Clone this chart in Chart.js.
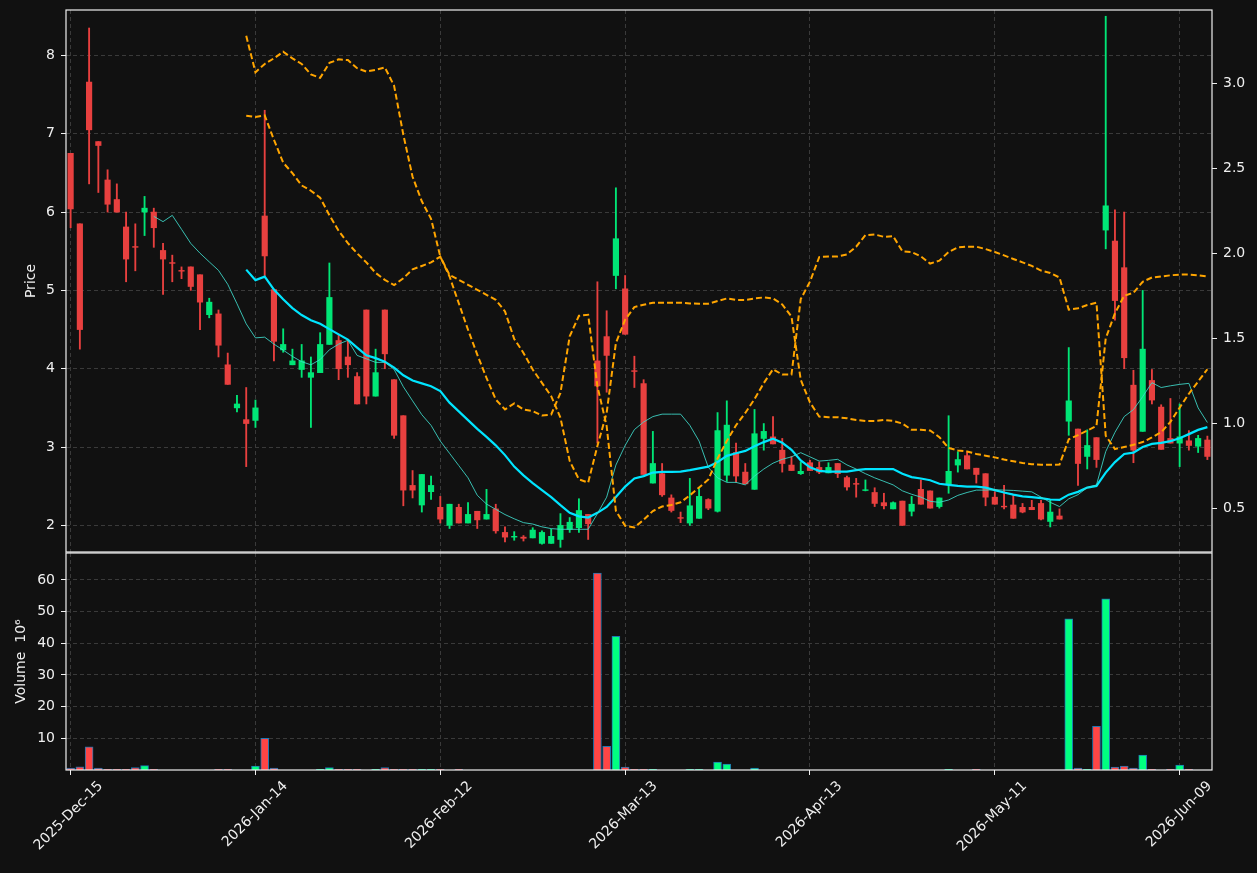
<!DOCTYPE html>
<html>
<head>
<meta charset="utf-8">
<script src="https://cdn.jsdelivr.net/npm/chart.js@4.4.1/dist/chart.umd.min.js"></script>
<style>
  html, body { margin: 0; padding: 0; background: #111111; }
  #wrap { position: relative; width: 1257px; height: 873px; }
  canvas { position: absolute; left: 0; }
  #price { top: 0; }
  #volume { top: 552px; }
</style>
</head>
<body>
<div id="wrap">
  <canvas id="price" width="1257" height="553"></canvas>
  <canvas id="volume" width="1257" height="321"></canvas>
</div>
<script>
// x axis tick labels (every 20th session)
const tickIdx = [0, 20, 40, 60, 80, 100, 120];
const dateLabels = ['2025-Dec-15', '2026-Jan-14', '2026-Feb-12', '2026-Mar-13', '2026-Apr-13', '2026-May-11', '2026-Jun-09'];

// daily OHLC
const opens = [6.75,5.85,7.66,6.90,6.41,6.16,5.81,5.56,6.00,6.00,
  5.51,5.355,5.255,5.30,5.20,4.69,4.70,4.05,3.50,3.35,
  3.34,5.95,5.01,4.24,4.05,3.99,3.89,3.95,4.31,4.36,
  4.15,3.90,4.75,3.65,4.75,3.86,3.40,2.51,2.26,2.43,
  2.23,2.00,2.23,2.03,2.18,2.08,2.21,1.91,1.85,1.85,
  1.84,1.77,1.77,1.82,1.95,1.97,2.14,4.10,4.41,5.19,
  5.02,3.975,3.81,2.54,2.66,2.35,2.10,2.03,2.09,2.33,
  2.18,2.64,2.93,2.68,2.46,3.11,3.13,2.96,2.77,2.66,
  2.80,2.74,2.67,2.79,2.61,2.535,2.445,2.42,2.29,2.21,
  2.31,2.18,2.46,2.44,2.24,2.53,2.77,2.89,2.73,2.66,
  2.36,2.245,2.26,2.23,2.23,2.28,2.05,2.12,3.33,3.23,
  2.88,3.12,5.77,5.63,5.29,3.79,3.20,3.85,3.51,3.11,
  3.05,3.08,3.01,3.09];
const highs = [6.75,5.85,8.35,6.90,6.54,6.36,6.00,5.85,6.20,6.05,
  5.60,5.45,5.30,5.30,5.20,4.90,4.75,4.20,3.66,3.76,
  3.60,7.30,5.01,4.51,4.25,4.31,4.15,4.46,5.35,4.44,
  4.36,3.95,4.75,4.25,4.75,3.86,3.40,2.70,2.65,2.63,
  2.37,2.27,2.27,2.29,2.18,2.46,2.27,1.98,1.92,1.87,
  1.97,1.93,1.95,2.15,2.10,2.34,2.14,5.11,4.74,6.31,
  5.19,4.16,3.86,3.20,2.79,2.39,2.17,2.60,2.47,2.34,
  3.44,3.59,3.05,2.79,3.48,3.30,3.39,3.11,2.88,2.81,
  2.83,2.81,2.80,2.79,2.63,2.60,2.58,2.48,2.41,2.30,
  2.31,2.37,2.58,2.44,2.35,3.40,2.94,2.94,2.73,2.66,
  2.43,2.51,2.39,2.28,2.32,2.32,2.32,2.21,4.27,3.23,
  3.22,3.12,8.50,6.03,6.00,3.98,5.00,3.99,3.54,3.62,
  3.55,3.21,3.15,3.14];
const lows = [5.80,4.25,6.36,6.25,6.00,6.00,5.11,5.25,5.70,5.55,
  4.95,5.11,5.15,5.00,4.50,4.65,4.15,3.80,3.45,2.75,
  3.25,5.19,4.10,4.21,4.05,3.89,3.25,3.95,4.31,3.86,
  3.89,3.55,3.55,3.65,4.00,3.11,2.25,2.35,2.17,2.33,
  2.03,1.96,2.03,2.03,1.96,2.08,1.90,1.79,1.81,1.80,
  1.84,1.76,1.77,1.72,1.91,1.91,1.82,3.05,3.70,5.02,
  4.44,3.76,2.65,2.54,2.37,2.17,2.035,2.00,2.09,2.20,
  2.17,2.56,2.55,2.53,2.46,2.96,3.04,2.68,2.70,2.65,
  2.70,2.66,2.67,2.61,2.45,2.36,2.44,2.24,2.21,2.21,
  2.00,2.12,2.27,2.22,2.22,2.41,2.68,2.72,2.54,2.25,
  2.27,2.21,2.09,2.16,2.20,2.07,1.98,2.08,3.15,2.51,
  2.72,2.74,5.53,4.62,4.00,2.80,3.20,3.55,2.97,3.05,
  2.75,2.96,2.93,2.84];
const closes = [6.04,4.50,7.05,6.85,6.10,6.00,5.40,5.55,6.05,5.80,
  5.40,5.345,5.245,5.05,4.85,4.85,4.30,3.80,3.55,3.30,
  3.50,5.44,4.35,4.31,4.10,4.10,3.95,4.31,4.91,4.00,
  4.05,3.55,3.65,3.95,4.19,3.15,2.45,2.45,2.65,2.51,
  2.08,2.27,2.03,2.14,2.07,2.14,1.93,1.85,1.86,1.835,
  1.94,1.91,1.86,2.00,2.04,2.19,2.02,3.78,4.17,5.66,
  4.44,3.965,2.65,2.79,2.39,2.19,2.09,2.25,2.37,2.22,
  3.21,3.28,2.63,2.53,3.17,3.20,3.04,2.79,2.70,2.69,
  2.70,2.68,2.74,2.66,2.49,2.525,2.455,2.28,2.25,2.29,
  2.00,2.27,2.27,2.22,2.35,2.69,2.84,2.72,2.65,2.36,
  2.27,2.235,2.09,2.17,2.20,2.08,2.17,2.08,3.59,2.79,
  3.02,2.84,6.08,4.87,4.14,2.96,4.25,3.60,2.97,3.05,
  3.13,3.02,3.11,2.88];

// volume in millions
const volumes = [0.63,1.04,7.3,0.63,0.25,0.25,0.25,0.73,1.36,0.25,
  0,0,0,0,0,0,0.25,0.25,0,0,
  1.25,10.0,0.63,0,0,0,0,0.25,0.73,0.25,
  0.25,0.25,0,0.25,0.73,0.25,0.25,0.25,0.25,0.25,
  0.25,0,0.25,0,0,0,0,0,0,0,
  0,0,0,0,0,0,0,62.2,7.5,42.2,
  0.94,0.25,0.25,0.25,0,0,0,0.25,0.25,0,
  2.5,1.88,0,0,0.63,0,0,0,0,0,
  0,0,0,0,0,0,0,0,0,0,
  0,0,0,0,0,0.25,0,0,0.25,0,
  0,0,0,0,0,0,0,0,47.7,0.63,
  0.25,13.8,54.0,0.94,1.25,0.63,4.7,0.25,0,0.25,
  1.56,0.25,0,0];

// moving averages (first value index given)
const ma10Start = 9;
const ma10 = [5.945,5.878,5.958,5.78,5.60,5.475,5.364,5.256,5.078,4.83,
  4.573,4.394,4.403,4.314,4.238,4.157,4.09,4.05,4.117,4.242,
  4.314,4.363,4.17,4.126,4.081,4.081,3.992,3.77,3.59,3.413,
  3.277,3.076,2.92,2.763,2.607,2.384,2.272,2.205,2.138,2.084,
  2.035,2.017,1.981,1.959,1.95,1.95,1.95,1.95,2.15,2.36,
  2.77,3.02,3.223,3.32,3.389,3.42,3.42,3.42,3.277,3.076,
  2.741,2.607,2.549,2.549,2.517,2.629,2.719,2.794,2.843,2.875,
  2.928,2.875,2.821,2.83,2.843,2.772,2.719,2.66,2.607,2.562,
  2.517,2.441,2.397,2.361,2.307,2.294,2.324,2.383,2.42,2.45,
  2.45,2.455,2.45,2.446,2.437,2.428,2.361,2.294,2.24,2.339,
  2.392,2.482,2.517,2.942,3.188,3.389,3.478,3.643,3.822,3.76,
  3.782,3.8,3.813,3.5,3.313];
const ma20Start = 19;
const ma20 = [5.265,5.131,5.176,5.01,4.886,4.774,4.685,4.618,4.573,4.506,
  4.439,4.372,4.27,4.171,4.135,4.09,4.014,3.916,3.849,3.813,
  3.777,3.715,3.567,3.456,3.344,3.232,3.13,3.022,2.897,2.75,
  2.638,2.54,2.451,2.361,2.258,2.16,2.115,2.1,2.16,2.236,
  2.361,2.495,2.598,2.629,2.674,2.683,2.683,2.687,2.705,2.727,
  2.75,2.808,2.888,2.92,2.951,3.009,3.063,3.107,3.054,2.964,
  2.83,2.741,2.696,2.687,2.687,2.687,2.705,2.718,2.718,2.718,
  2.718,2.66,2.616,2.598,2.576,2.531,2.517,2.504,2.495,2.495,
  2.482,2.45,2.419,2.392,2.37,2.361,2.348,2.33,2.325,2.392,
  2.428,2.482,2.504,2.674,2.808,2.911,2.929,3.0,3.04,3.054,
  3.076,3.112,3.165,3.219,3.255];

// two dashed indicator lines on the right axis
const bandStart = 19;
const bandA = [3.278,3.064,3.113,3.146,3.185,3.146,3.113,3.051,3.031,3.119,
  3.14,3.136,3.088,3.068,3.078,3.093,2.985,2.697,2.45,2.306,
  2.203,1.981,1.864,1.707,1.551,1.405,1.268,1.141,1.083,1.118,
  1.083,1.073,1.047,1.053,1.18,1.512,1.633,1.639,1.219,0.985,
  0.487,0.399,0.389,0.434,0.486,0.512,0.521,0.537,0.578,0.624,
  0.671,0.794,0.897,0.99,1.062,1.144,1.237,1.319,1.288,1.288,
  1.731,1.834,1.978,1.982,1.982,1.994,2.039,2.107,2.111,2.097,
  2.101,2.012,2.008,1.982,1.94,1.957,2.008,2.035,2.039,2.039,
  2.025,2.008,1.988,1.967,1.947,1.926,1.899,1.885,1.858,1.669,
  1.677,1.696,1.71,0.928,0.85,0.862,0.875,0.891,0.918,0.949,
  1.01,1.093,1.175,1.247,1.319];
const bandB = [2.809,2.801,2.811,2.667,2.533,2.471,2.399,2.368,2.327,2.224,
  2.132,2.06,2.0,1.947,1.885,1.844,1.813,1.854,1.906,1.926,
  1.947,1.981,1.873,1.844,1.815,1.786,1.756,1.727,1.659,1.497,
  1.415,1.317,1.239,1.161,1.034,0.78,0.672,0.653,0.868,1.063,
  1.473,1.61,1.684,1.698,1.71,1.71,1.71,1.71,1.706,1.704,
  1.704,1.72,1.735,1.726,1.726,1.735,1.741,1.735,1.70,1.628,
  1.257,1.124,1.041,1.037,1.037,1.031,1.021,1.015,1.015,1.021,
  1.015,1.0,0.963,0.963,0.959,0.92,0.856,0.842,0.836,0.821,
  0.811,0.801,0.788,0.778,0.768,0.761,0.757,0.757,0.759,0.907,
  0.932,0.959,0.986,1.50,1.648,1.751,1.768,1.833,1.858,1.864,
  1.871,1.875,1.875,1.871,1.864];

const priceTicks = [2, 3, 4, 5, 6, 7, 8];
const rightTicks = [0.5, 1.0, 1.5, 2.0, 2.5, 3.0];
const volTicks = [10, 20, 30, 40, 50, 60];

Chart.defaults.font.family = 'DejaVu Sans';
Chart.defaults.font.size = 14;
Chart.defaults.color = '#f0f0f0';

const textColor = '#f0f0f0';
const gridColor = '#3a3a3a';
const upColor = '#00e676';
const downColor = '#e8403f';

const idx = closes.map((c, i) => i);
const candleColor = idx.map(i => closes[i] >= opens[i] ? upColor : downColor);
const volColor = idx.map(i => closes[i] >= opens[i] ? '#00ff80' : '#ff4545');

const toPoints = (arr, start) => arr.map((v, k) => ({ x: start + k, y: v }));
const fixTicks = list => axis => { axis.ticks = list.map(v => ({ value: v })); };

// pin axis sizes so both panels share the same plot box
const fixWidth = w => s => { s.width = w; s.paddingTop = 0; s.paddingBottom = 0; };
const fixHeight = h => s => { s.height = h; s.paddingLeft = 0; s.paddingRight = 0; };

// white box round each panel
const frame = {
    id: 'frame',
    afterDraw(chart) {
        const { ctx, chartArea: a } = chart;
        ctx.save();
        ctx.strokeStyle = '#f0f0f0';
        ctx.lineWidth = 1.2;
        ctx.strokeRect(a.left, a.top, a.width, a.height);
        ctx.restore();
    }
};

// price panel
new Chart(document.getElementById('price'), {
    type: 'bar',
    data: {
        datasets: [
            {
                label: 'wick',
                data: idx.map(i => ({ x: i, y: [lows[i], highs[i]] })),
                backgroundColor: candleColor,
                barThickness: 1.2,
                grouped: false,
                order: 4
            },
            {
                label: 'body',
                data: idx.map(i => ({ x: i, y: [opens[i], closes[i]] })),
                backgroundColor: candleColor,
                barThickness: 5.5,
                grouped: false,
                order: 3
            },
            {
                type: 'line',
                label: 'MA10',
                data: toPoints(ma10, ma10Start),
                borderColor: 'rgba(64, 220, 205, 0.85)',
                borderWidth: 1,
                pointRadius: 0,
                order: 2
            },
            {
                type: 'line',
                label: 'MA20',
                data: toPoints(ma20, ma20Start),
                borderColor: '#00e5ff',
                borderWidth: 2.2,
                pointRadius: 0,
                order: 2
            },
            {
                type: 'line',
                label: 'A',
                data: toPoints(bandA, bandStart),
                yAxisID: 'y2',
                borderColor: '#ffa500',
                borderWidth: 2,
                borderDash: [6, 3],
                pointRadius: 0,
                order: 1
            },
            {
                type: 'line',
                label: 'B',
                data: toPoints(bandB, bandStart),
                yAxisID: 'y2',
                borderColor: '#ffa500',
                borderWidth: 2,
                borderDash: [6, 3],
                pointRadius: 0,
                order: 1
            }
        ]
    },
    options: {
        responsive: false,
        animation: false,
        events: [],
        layout: { padding: { top: 10, bottom: 1, left: 0, right: 0 } },
        plugins: { legend: { display: false }, tooltip: { enabled: false } },
        scales: {
            x: {
                type: 'linear',
                min: -0.5,
                max: 123.5,
                offset: false,
                afterBuildTicks: fixTicks(tickIdx),
                afterFit: fixHeight(0),
                ticks: { display: false },
                grid: { color: gridColor, drawTicks: false, offset: false },
                border: { display: false, dash: [4, 3] }
            },
            y: {
                position: 'left',
                min: 1.66,
                max: 8.58,
                afterBuildTicks: fixTicks(priceTicks),
                afterFit: fixWidth(66),
                ticks: { color: textColor, padding: 6 },
                grid: { color: gridColor, tickColor: '#f0f0f0', tickLength: 5, tickBorderDash: [] },
                border: { display: false, dash: [4, 3] },
                title: { display: true, text: 'Price', color: textColor, padding: { top: 23, bottom: 0 } }
            },
            y2: {
                position: 'right',
                min: 0.245,
                max: 3.43,
                afterBuildTicks: fixTicks(rightTicks),
                afterFit: fixWidth(45),
                ticks: { color: textColor, padding: 6, callback: v => v.toFixed(1) },
                grid: { drawOnChartArea: false, tickColor: '#f0f0f0', tickLength: 5 },
                border: { display: false }
            }
        }
    },
    plugins: [frame]
});

// volume panel
new Chart(document.getElementById('volume'), {
    type: 'bar',
    data: {
        datasets: [{
            label: 'Volume',
            data: idx.map(i => ({ x: i, y: volumes[i] })),
            backgroundColor: volColor,
            borderColor: '#1f77b4',
            borderWidth: 1,
            barThickness: 8
        }]
    },
    options: {
        responsive: false,
        animation: false,
        events: [],
        layout: { padding: { top: 1, bottom: 0, left: 0, right: 45 } },
        plugins: { legend: { display: false }, tooltip: { enabled: false } },
        scales: {
            x: {
                type: 'linear',
                min: -0.5,
                max: 123.5,
                offset: false,
                afterBuildTicks: fixTicks(tickIdx),
                afterFit: fixHeight(103),
                ticks: {
                    color: textColor,
                    autoSkip: false,
                    maxRotation: 45,
                    minRotation: 45,
                    labelOffset: 30,
                    callback: v => dateLabels[tickIdx.indexOf(v)]
                },
                grid: { color: gridColor, tickColor: '#f0f0f0', tickLength: 5, tickBorderDash: [], offset: false },
                border: { display: false, dash: [4, 3] }
            },
            y: {
                min: 0,
                max: 68.5,
                afterBuildTicks: fixTicks(volTicks),
                afterFit: fixWidth(66),
                ticks: { color: textColor, padding: 6 },
                grid: { color: gridColor, tickColor: '#f0f0f0', tickLength: 5, tickBorderDash: [] },
                border: { display: false, dash: [4, 3] },
                title: { display: true, text: 'Volume  10\u2076', color: textColor, padding: { top: 13, bottom: 0 } }
            }
        }
    },
    plugins: [frame]
});
</script>
</body>
</html>
